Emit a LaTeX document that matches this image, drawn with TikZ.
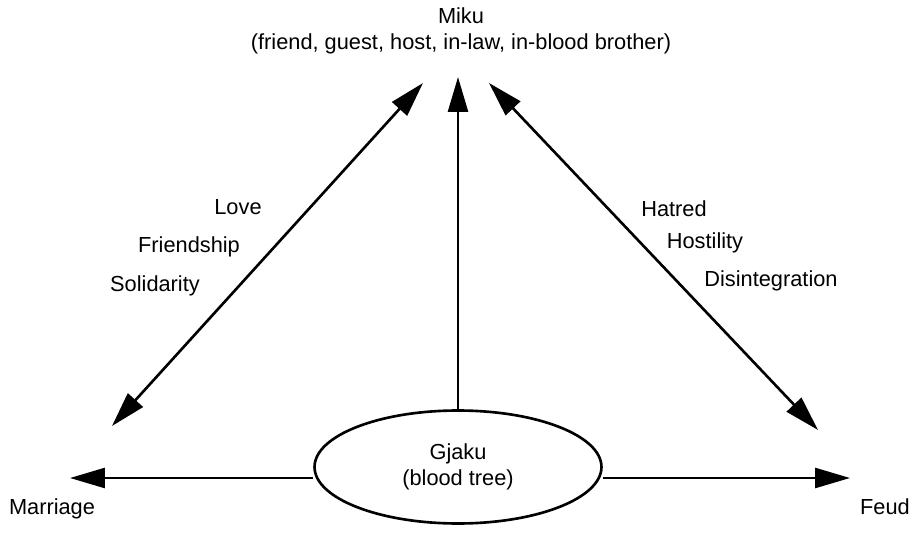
\documentclass[tikz,border=0pt]{standalone}
\usepackage{fontspec}
\setmainfont{Liberation Sans}
\usetikzlibrary{positioning, arrows.meta, shapes.geometric}

\tikzset{
    label text/.style={font=\fontsize{12.4}{15}\selectfont, inner sep=1pt},
    rel arrow/.style={line width=1.5pt, -{Triangle[length=0.7cm, width=0.4cm]}},
    rel both/.style={line width=1.5pt, {Triangle[length=0.7cm, width=0.4cm]}-{Triangle[length=0.7cm, width=0.4cm]}}
}

\begin{document}
\begin{tikzpicture}[x=0.02cm, y=-0.02cm]
    \useasboundingbox (0, 0) rectangle (912, 533);

    % top and centre
    \node[label text, align=center] (miku) at (461, 31) {Miku\\(friend, guest, host, in-law, in-blood brother)};
    \node[draw, line width=1.5pt, ellipse, minimum width=5.74cm, minimum height=2.26cm, inner sep=0pt, label text, align=center] (gjaku) at (458, 467) {Gjaku\\(blood tree)};

    % bottom corners
    \node[label text] (marriage) at (52, 509) {Marriage};
    \node[label text] (feud) at (885, 507) {Feud};

    % free ends of the arrows
    \coordinate (mikuL) at (423, 83);
    \coordinate (mikuC) at (457, 77);
    \coordinate (mikuR) at (489, 83);
    \coordinate (marL) at (112, 426);
    \coordinate (feudR) at (818, 430);
    \coordinate (marT) at (70, 478);
    \coordinate (feudT) at (850, 478);

    \draw[rel arrow] (gjaku.north) -- (gjaku.north |- mikuC);
    \draw[rel both] (marL) -- (mikuL);
    \draw[rel both] (mikuR) -- (feudR);
    \draw[rel arrow] (gjaku.west |- marT) -- (marT);
    \draw[rel arrow] (gjaku.east |- feudT) -- (feudT);

    % relation words
    \node[label text] (love) at (238, 207) {Love};
    \node[label text] (friendship) at (189, 247) {Friendship};
    \node[label text] (solidarity) at (155, 286) {Solidarity};
    \node[label text] (hatred) at (674, 209) {Hatred};
    \node[label text] (hostility) at (705, 243) {Hostility};
    \node[label text] (disint) at (771, 281) {Disintegration};
\end{tikzpicture}
\end{document}
